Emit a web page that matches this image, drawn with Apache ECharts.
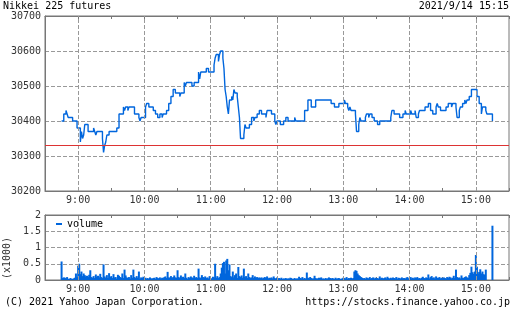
<!DOCTYPE html>
<html><head><meta charset="utf-8">
<script src="https://cdn.jsdelivr.net/npm/echarts/dist/echarts.min.js"></script>
<style>html,body{margin:0;padding:0;background:#fff}#c{width:512px;height:310px}</style>
</head><body><div id="c"></div>
<script>
const titleText = 'Nikkei 225 futures';
const dateText = '2021/9/14 15:15';
const copyrightText = '(C) 2021 Yahoo Japan Corporation.';
const urlText = 'https://stocks.finance.yahoo.co.jp';
const volumeUnitText = '(x1000)';
const prevClose = 30330;
const hourTicks = ['9:00','10:00','11:00','12:00','13:00','14:00','15:00'];

const priceTimes = [
 '8:45','8:47','8:49','8:50','8:51','8:55','8:59','9:02','9:03','9:04','9:05','9:06','9:09','9:14',
 '9:15','9:16','9:17','9:22','9:23','9:24','9:25','9:26','9:28','9:35','9:37','9:41','9:42','9:43',
 '9:45','9:46','9:51','9:55','9:56','9:57','10:01','10:02','10:04','10:08','10:10','10:12','10:14',
 '10:16','10:17','10:20','10:22','10:24','10:26','10:28','10:32','10:33','10:36','10:37','10:38',
 '10:43','10:45','10:49','10:50','10:51','10:56','10:58','11:03','11:04','11:05','11:07','11:08',
 '11:09','11:11','11:12','11:13','11:14','11:15','11:16','11:17','11:19','11:20','11:21','11:22',
 '11:24','11:25','11:26','11:27','11:30','11:31','11:32','11:35','11:37','11:39','11:40','11:42',
 '11:44','11:46','11:50','11:51','11:55','11:58','11:59','12:00','12:03','12:06','12:08','12:10',
 '12:16','12:17','12:25','12:28','12:31','12:35','12:49','12:52','12:56','13:01','13:02','13:04',
 '13:05','13:06','13:07','13:11','13:12','13:14','13:15','13:16','13:20','13:21','13:23','13:24',
 '13:26','13:28','13:31','13:33','13:43','13:44','13:46','13:51','13:54','13:56','13:57','14:01',
 '14:02','14:05','14:06','14:08','14:09','14:14','14:17','14:19','14:21','14:24','14:25','14:26',
 '14:28','14:33','14:35','14:38','14:39','14:42','14:43','14:45','14:46','14:48','14:50','14:51',
 '14:52','14:54','14:56','15:01','15:03','15:05','15:06','15:09','15:10','15:15'
];
const prices = [
 30400,30420,30430,30420,30410,30400,30380,30340,30370,30350,30360,30390,30370,30380,
 30370,30360,30370,30350,30310,30330,30340,30360,30370,30380,30420,30440,30430,30440,
 30430,30440,30420,30410,30400,30410,30440,30450,30440,30430,30420,30410,30420,
 30410,30420,30430,30450,30470,30490,30480,30470,30480,30510,30500,30510,
 30500,30510,30540,30520,30540,30550,30540,30560,30580,30590,30570,30590,
 30600,30580,30550,30490,30470,30440,30420,30460,30470,30460,30490,30480,
 30470,30440,30410,30350,30360,30390,30380,30390,30410,30400,30410,30420,
 30430,30420,30410,30430,30420,30400,30390,30400,30390,30400,30410,30400,
 30410,30400,30430,30460,30440,30460,30450,30440,30450,30460,30450,30440,
 30430,30440,30430,30420,30370,30390,30410,30400,30410,30420,30410,30420,
 30410,30400,30390,30400,30410,30430,30420,30410,30420,30430,30420,30430,
 30420,30430,30410,30420,30430,30440,30450,30430,30420,30440,30450,30440,
 30430,30440,30450,30440,30450,30440,30410,30430,30440,30450,30460,30450,
 30460,30470,30490,30470,30450,30420,30440,30430,30420,30400
];

const volumeStart = '8:45';
const volumes = [
 570,60,80,70,50,90,40,30,60,40,30,50,70,200,90,
 440,500,180,260,120,200,150,110,130,90,160,300,90,70,120,
 60,170,100,130,80,190,90,60,480,110,70,150,60,210,90,
 120,60,180,80,90,40,160,130,90,70,200,60,320,140,80,
 60,90,40,150,70,320,90,60,120,70,260,40,80,60,100,
 50,70,40,60,30,80,50,40,60,70,40,90,60,50,80,
 40,70,60,90,110,60,250,80,70,120,60,90,140,80,70,
 300,90,60,140,80,100,60,200,70,40,90,60,110,80,60,
 130,70,90,60,350,80,60,150,90,70,110,60,80,50,120,
 60,40,100,80,500,70,120,60,90,200,380,520,560,200,600,
 650,300,480,120,90,260,80,150,200,60,400,120,90,140,70,
 350,80,120,60,200,90,60,80,150,60,110,70,90,60,80,
 60,80,50,70,90,60,110,50,70,60,80,50,110,60,40,
 80,50,60,40,70,30,50,40,60,30,50,40,70,60,30,
 40,60,30,50,40,100,60,50,90,40,60,40,230,70,50,
 90,60,40,50,130,60,40,50,70,60,80,40,50,30,60,
 40,50,80,60,40,60,50,30,70,40,50,60,40,30,50,
 70,60,50,90,40,60,50,70,40,60,260,300,280,200,150,
 120,90,70,50,60,40,80,60,50,90,40,60,80,40,70,
 50,60,40,110,50,70,40,60,80,50,100,60,40,70,50,
 80,60,50,90,40,70,60,40,80,50,60,40,70,90,50,
 60,90,50,70,40,80,60,90,50,60,40,70,100,60,50,
 80,60,170,50,90,120,60,80,40,110,70,60,90,50,70,
 50,80,60,40,90,60,100,80,50,70,130,60,320,90,60,
 80,50,140,70,60,90,110,80,60,150,220,410,240,190,260,
 770,410,200,250,330,200,260,180,160,320
];
const closeTime = '15:15';
const closeVolume = 1670;

const FONT = '"DejaVu Sans Mono", monospace';
const BLUE = '#0066dd';
const AX = '#777';
const toMin = s => { const p = s.split(':').map(Number); return p[0] * 60 + p[1] - 510; };
const hourLabel = v => ((v - 30) % 60 === 0 ? ((v + 510) / 60) + ':00' : '');

const priceData = priceTimes.map((t, i) => [toMin(t), prices[i]]);
const v0 = toMin(volumeStart);
const volData = volumes.map((v, i) => [v0 + i, v]).concat([[toMin(closeTime), closeVolume]]);
const hourLines = () => hourTicks.map(t => ({ xAxis: toMin(t) }));
const dash = () => ({ color: '#999', type: 'dashed', width: 1 });

function xAx(gridIndex, position, showLabel) {
  return {
    type: 'value', gridIndex, position, min: 0, max: 420, interval: 30,
    axisLine: { show: true, onZero: false, lineStyle: { color: AX, width: 1 } },
    axisTick: { show: true, inside: true, length: 3, lineStyle: { color: AX } },
    axisLabel: { show: showLabel, formatter: hourLabel, color: '#333', fontFamily: FONT, fontSize: 10, margin: 4 },
    splitLine: { show: false }
  };
}

const chart = echarts.init(document.getElementById('c'), null, { renderer: 'canvas' });
chart.setOption({
  animation: false,
  backgroundColor: '#fff',
  grid: [
    { left: 45, right: 1, top: 16, height: 175, show: true, borderColor: AX, borderWidth: 1, backgroundColor: 'rgba(0,0,0,0)' },
    { left: 45, right: 1, top: 215, height: 65, show: true, borderColor: AX, borderWidth: 1, backgroundColor: 'rgba(0,0,0,0)' }
  ],
  xAxis: [xAx(0, 'bottom', true), xAx(0, 'top', false), xAx(1, 'bottom', true), xAx(1, 'top', false)],
  yAxis: [
    { type: 'value', gridIndex: 0, min: 30200, max: 30700, interval: 100,
      axisLine: { show: true, lineStyle: { color: AX } }, axisTick: { show: false },
      axisLabel: { color: '#333', fontFamily: FONT, fontSize: 10, margin: 4, formatter: v => String(v) },
      splitLine: { show: true, lineStyle: dash() } },
    { type: 'value', gridIndex: 1, min: 0, max: 2000, interval: 500,
      axisLine: { show: true, lineStyle: { color: AX } }, axisTick: { show: false },
      axisLabel: { color: '#333', fontFamily: FONT, fontSize: 10, margin: 4, formatter: v => String(v / 1000) },
      splitLine: { show: true, lineStyle: dash() } }
  ],
  legend: {
    left: 56, top: 219, padding: 0, icon: 'rect', itemWidth: 6, itemHeight: 2,
    data: ['volume'], textStyle: { fontFamily: FONT, fontSize: 10, color: '#000' }
  },
  graphic: [
    { type: 'text', left: 3, top: 1, style: { text: titleText, font: '10px ' + FONT, fill: '#000' } },
    { type: 'text', right: 3, top: 1, style: { text: dateText, font: '10px ' + FONT, fill: '#000' } },
    { type: 'text', left: 5, top: 297, style: { text: copyrightText, font: '10px ' + FONT, fill: '#000' } },
    { type: 'text', right: 2, top: 297, style: { text: urlText, font: '10px ' + FONT, fill: '#000' } },
    { type: 'text', x: 7, y: 258, rotation: Math.PI / 2,
      style: { text: volumeUnitText, font: '10px ' + FONT, fill: '#333', textAlign: 'center', textVerticalAlign: 'middle', align: 'center', verticalAlign: 'middle' } }
  ],
  series: [
    { type: 'line', xAxisIndex: 0, yAxisIndex: 0, data: [], z: 1, silent: true,
      markLine: { silent: true, symbol: 'none', label: { show: false }, lineStyle: dash(),
        data: hourLines().concat([{ yAxis: prevClose, lineStyle: { color: '#d33', type: 'solid', width: 1 } }]) } },
    { type: 'line', xAxisIndex: 2, yAxisIndex: 1, data: [], z: 1, silent: true,
      markLine: { silent: true, symbol: 'none', label: { show: false }, lineStyle: dash(), data: hourLines() } },
    { name: 'price', type: 'line', xAxisIndex: 0, yAxisIndex: 0, step: 'end', showSymbol: false, z: 3,
      lineStyle: { color: BLUE, width: 1.4 }, itemStyle: { color: BLUE }, data: priceData },
    { name: 'volume', type: 'bar', xAxisIndex: 2, yAxisIndex: 1, barWidth: 2, z: 3,
      itemStyle: { color: BLUE }, data: volData }
  ]
});
</script></body></html>
